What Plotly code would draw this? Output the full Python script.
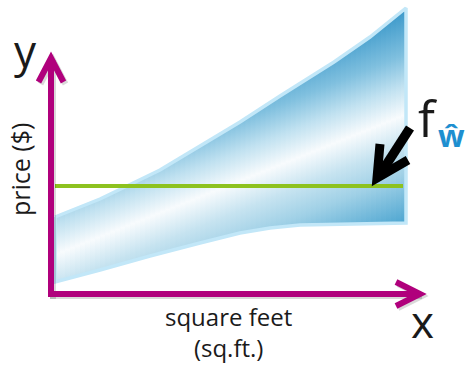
import numpy as np
import plotly.graph_objects as go

# ---- data (arbitrary units: square feet vs price) ----
sqft_upper = [4, 29, 49, 76, 109, 149, 189, 229, 283, 319, 355]
price_upper = [77, 87, 95, 108, 124, 148, 172, 198, 232, 257, 286]
sqft_lower = [4, 49, 99, 149, 189, 219, 249, 299, 355]
price_lower = [12, 24, 38, 51, 61, 66, 69, 70, 71]
fit_sqft = [4, 352]
fit_price = [108, 108]

x_label_lines = ["square feet", "(sq.ft.)"]
y_label = "price ($)"

MAGENTA = "#b0007c"
GREEN = "#8dc21f"
FONT = "Open Sans"

fig = go.Figure()

# base band
band_x = sqft_upper + sqft_lower[::-1]
band_y = price_upper + price_lower[::-1]
fig.add_trace(go.Scatter(x=band_x, y=band_y, fill="toself", fillcolor="#c4e2f0",
                         mode="lines", line=dict(width=0), hoverinfo="skip", showlegend=False))

# gradient strips (rendering of the same band)
cs = [[0, "#4aa4d0"], [0.227, "#9fd0e6"], [0.364, "#c6e3f0"], [0.5, "#f8fbfd"],
      [0.636, "#c0e1f0"], [0.773, "#80c0df"], [1, "#3595c8"]]
xs = np.linspace(sqft_upper[0], sqft_upper[-1], 71)
up = np.interp(xs, sqft_upper, price_upper)
lo = np.interp(xs, sqft_lower, price_lower)
for i in range(len(xs) - 1):
    x0, x1 = xs[i], min(xs[i + 1] + 0.7, xs[-1])
    u1 = np.interp(x1, sqft_upper, price_upper)
    l1 = np.interp(x1, sqft_lower, price_lower)
    xc = 0.5 * (x0 + x1)
    ys = 39 + 0.40 * (xc - 4)
    fig.add_trace(go.Scatter(
        x=[x0, x1, x1, x0, x0], y=[lo[i], l1, u1, up[i], lo[i]],
        fill="toself", mode="lines", line=dict(width=0),
        fillgradient=dict(type="vertical", colorscale=cs, start=ys - 110, stop=ys + 110),
        hoverinfo="skip", showlegend=False))

# band outline glow
fig.add_trace(go.Scatter(x=band_x + [band_x[0]], y=band_y + [band_y[0]], mode="lines",
                         line=dict(color="#c2e7f8", width=3.5), hoverinfo="skip", showlegend=False))

# fitted line
fig.add_trace(go.Scatter(x=fit_sqft, y=fit_price, mode="lines",
                         line=dict(color=GREEN, width=4), hoverinfo="skip", showlegend=False))

shapes = []
def path(pts):
    return "M " + " L ".join(f"{a},{b}" for a, b in pts)

axis_paths = [
    [(0, -3), (0, 236)],
    [(-12.5, 212), (0, 236), (12.5, 212)],
    [(-3, 0), (369, 0)],
    [(345, 12), (369, 0), (345, -12)],
]
for p in axis_paths:
    shapes.append(dict(type="path", xref="x", yref="y",
                       path=path([(a + 2, b - 2) for a, b in p]),
                       line=dict(color="rgba(0,0,0,0.15)", width=6)))
for p in axis_paths:
    shapes.append(dict(type="path", xref="x", yref="y", path=path(p),
                       line=dict(color=MAGENTA, width=6)))

# black pointer arrow
shapes.append(dict(type="path", xref="x", yref="y",
                   path=path([(359, 166), (328, 118)]), line=dict(color="black", width=9.5)))
shapes.append(dict(type="path", xref="x", yref="y",
                   path=path([(329, 150), (326, 116), (357, 134)]), line=dict(color="black", width=9)))

annotations = [
    dict(x=-26, y=244, text="y", font=dict(family=FONT, size=44, color="#1a1a1a")),
    dict(x=371, y=-27, text="x", font=dict(family=FONT, size=44, color="#1a1a1a")),
    dict(x=377, y=176, text="f", font=dict(family=FONT, size=50, color="#1a1a1a")),
    dict(x=400, y=159, text="<b>ŵ</b>", font=dict(family=FONT, size=31, color="#1e8fd0")),
    dict(x=-31, y=124, text=y_label, textangle=-90, font=dict(family=FONT, size=25, color="#1a1a1a")),
    dict(x=177, y=-38, text="<br>".join(x_label_lines),
         font=dict(family=FONT, size=24, color="#1a1a1a")),
]
for a in annotations:
    a.update(xref="x", yref="y", showarrow=False, xanchor="center", yanchor="middle")

fig.update_layout(
    width=468, height=369, margin=dict(l=0, r=0, t=0, b=0),
    paper_bgcolor="white", plot_bgcolor="white",
    xaxis=dict(range=[-51, 417], visible=False, fixedrange=True),
    yaxis=dict(range=[-75, 294], visible=False, fixedrange=True),
    shapes=shapes, annotations=annotations, showlegend=False,
)
fig.write_html("out.html", config={"displayModeBar": False},
               post_script="document.body.style.margin='0';")
